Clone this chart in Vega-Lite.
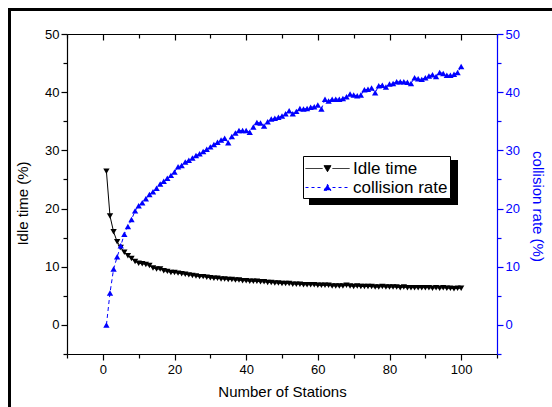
{
  "$schema": "https://vega.github.io/schema/vega-lite/v6.json",
  "width": 430,
  "height": 320,
  "autosize": "none",
  "padding": {"left": 67, "top": 34, "right": 55, "bottom": 53},
  "background": "white",
  "config": {
    "view": {"stroke": null},
    "font": "Liberation Sans",
    "axis": {"grid": false, "labelFont": "Liberation Sans", "titleFont": "Liberation Sans", "labelFontSize": 13, "titleFontSize": 15, "titleFontWeight": "normal", "domainColor": "black", "tickColor": "black", "labelColor": "black", "titleColor": "black", "domainWidth": 1.2, "tickWidth": 1.2, "labelOverlap": false},
    "legend": {"orient": "none", "legendX": 236, "legendY": 122, "strokeColor": "black", "fillColor": "white", "padding": 2, "labelFontSize": 17, "labelFont": "Liberation Sans", "labelColor": "black", "rowPadding": 0, "symbolStrokeWidth": 1, "labelOffset": 15, "symbolOffset": 12, "symbolSize": 400}
  },
  "data": {"values": [
    {"n":1,"idle":26.4,"coll":0},{"n":2,"idle":18.7,"coll":5.5},{"n":3,"idle":16.0,"coll":9.6},{"n":4,"idle":14.3,"coll":11.7},{"n":5,"idle":13.3,"coll":13.6},
    {"n":6,"idle":12.5,"coll":15.6},{"n":7,"idle":11.9,"coll":16.9},{"n":8,"idle":11.4,"coll":18.1},{"n":9,"idle":10.9,"coll":19.6},{"n":10,"idle":10.6,"coll":20.5},
    {"n":11,"idle":10.5,"coll":21.0},{"n":12,"idle":10.4,"coll":21.7},{"n":13,"idle":10.2,"coll":22.4},{"n":14,"idle":9.8,"coll":22.9},{"n":15,"idle":9.6,"coll":23.5},
    {"n":16,"idle":9.6,"coll":24.2},{"n":17,"idle":9.3,"coll":24.7},{"n":18,"idle":9.2,"coll":25.2},{"n":19,"idle":9.0,"coll":25.7},{"n":20,"idle":9.0,"coll":26.3},
    {"n":21,"idle":8.9,"coll":27.2},{"n":22,"idle":8.8,"coll":27.4},{"n":23,"idle":8.7,"coll":28.0},{"n":24,"idle":8.6,"coll":28.3},{"n":25,"idle":8.5,"coll":28.7},
    {"n":26,"idle":8.4,"coll":29.1},{"n":27,"idle":8.3,"coll":29.4},{"n":28,"idle":8.3,"coll":29.8},{"n":29,"idle":8.2,"coll":30.2},{"n":30,"idle":8.1,"coll":30.6},
    {"n":31,"idle":8.0,"coll":31.0},{"n":32,"idle":8.0,"coll":31.4},{"n":33,"idle":7.9,"coll":31.8},{"n":34,"idle":7.9,"coll":32.1},{"n":35,"idle":7.8,"coll":31.3},
    {"n":36,"idle":7.8,"coll":32.4},{"n":37,"idle":7.7,"coll":33.0},{"n":38,"idle":7.7,"coll":33.4},{"n":39,"idle":7.6,"coll":33.4},{"n":40,"idle":7.6,"coll":33.4},
    {"n":41,"idle":7.5,"coll":33.1},{"n":42,"idle":7.5,"coll":34.0},{"n":43,"idle":7.5,"coll":34.8},{"n":44,"idle":7.4,"coll":34.7},{"n":45,"idle":7.4,"coll":34.2},
    {"n":46,"idle":7.3,"coll":34.9},{"n":47,"idle":7.3,"coll":35.4},{"n":48,"idle":7.2,"coll":35.5},{"n":49,"idle":7.2,"coll":35.7},{"n":50,"idle":7.1,"coll":35.9},
    {"n":51,"idle":7.1,"coll":36.3},{"n":52,"idle":7.1,"coll":36.8},{"n":53,"idle":7.0,"coll":36.3},{"n":54,"idle":7.0,"coll":36.7},{"n":55,"idle":7.0,"coll":37.2},
    {"n":56,"idle":6.9,"coll":37.1},{"n":57,"idle":6.9,"coll":37.2},{"n":58,"idle":6.9,"coll":37.4},{"n":59,"idle":6.9,"coll":37.5},{"n":60,"idle":6.8,"coll":37.8},
    {"n":61,"idle":6.8,"coll":37.1},{"n":62,"idle":6.8,"coll":38.8},{"n":63,"idle":6.8,"coll":38.5},{"n":64,"idle":6.7,"coll":38.8},{"n":65,"idle":6.7,"coll":38.8},
    {"n":66,"idle":6.7,"coll":38.8},{"n":67,"idle":6.7,"coll":38.9},{"n":68,"idle":6.8,"coll":39.2},{"n":69,"idle":6.7,"coll":39.7},{"n":70,"idle":6.6,"coll":39.5},
    {"n":71,"idle":6.7,"coll":39.4},{"n":72,"idle":6.6,"coll":39.5},{"n":73,"idle":6.6,"coll":40.4},{"n":74,"idle":6.6,"coll":40.5},{"n":75,"idle":6.6,"coll":40.7},
    {"n":76,"idle":6.5,"coll":39.9},{"n":77,"idle":6.5,"coll":41.1},{"n":78,"idle":6.6,"coll":41.2},{"n":79,"idle":6.5,"coll":40.9},{"n":80,"idle":6.5,"coll":41.4},
    {"n":81,"idle":6.5,"coll":41.5},{"n":82,"idle":6.5,"coll":41.8},{"n":83,"idle":6.4,"coll":41.8},{"n":84,"idle":6.5,"coll":41.8},{"n":85,"idle":6.4,"coll":41.7},
    {"n":86,"idle":6.4,"coll":41.5},{"n":87,"idle":6.4,"coll":42.5},{"n":88,"idle":6.4,"coll":42.3},{"n":89,"idle":6.4,"coll":42.2},{"n":90,"idle":6.4,"coll":42.5},
    {"n":91,"idle":6.4,"coll":42.8},{"n":92,"idle":6.3,"coll":43.0},{"n":93,"idle":6.4,"coll":42.7},{"n":94,"idle":6.3,"coll":43.4},{"n":95,"idle":6.4,"coll":43.2},
    {"n":96,"idle":6.3,"coll":42.9},{"n":97,"idle":6.3,"coll":42.9},{"n":98,"idle":6.2,"coll":43.1},{"n":99,"idle":6.3,"coll":43.4},{"n":100,"idle":6.3,"coll":44.4}
  ]},
  "layer": [
    {
      "layer": [
        {
          "mark": {"type": "rect", "fill": "transparent", "stroke": "black", "strokeWidth": 2, "clip": false},
          "encoding": {
            "x": {"datum": -26.0, "type": "quantitative"},
            "x2": {"datum": 126},
            "y": {"datum": 54.17, "type": "quantitative"},
            "y2": {"datum": -14.5}
          }
        },
        {
          "mark": {"type": "rect", "fill": "black", "clip": false},
          "encoding": {
            "x": {"datum": 57.6, "type": "quantitative"},
            "x2": {"datum": 98.9},
            "y": {"datum": 28.2, "type": "quantitative"},
            "y2": {"datum": 20.7}
          }
        },
        {
          "mark": {"type": "line", "strokeWidth": 1, "color": "black"},
          "encoding": {
            "x": {"field": "n", "type": "quantitative", "scale": {"domain": [-10, 110], "nice": false, "zero": false},
                  "axis": {"title": "Number of Stations", "tickCount": 12, "labelExpr": "datum.value % 20 === 0 ? datum.label : ''", "tickSize": {"condition": {"test": "datum.value % 20 === 0", "value": 6}, "value": 4}, "labelPadding": 3, "titlePadding": 8}},
            "y": {"field": "idle", "type": "quantitative", "scale": {"domain": [-5, 50], "nice": false, "zero": false},
                  "axis": {"title": "Idle time (%)", "tickCount": 11, "labelExpr": "datum.value % 10 === 0 ? datum.label : ''", "tickSize": {"condition": {"test": "datum.value % 10 === 0", "value": 6}, "value": 4}, "labelPadding": 2, "titlePadding": 14, "titleY": 169}}
          }
        },
        {
          "mark": {"type": "point", "filled": true, "size": 40, "opacity": 1, "shape": "triangle-down", "color": "black"},
          "encoding": {
            "x": {"field": "n", "type": "quantitative"},
            "y": {"field": "idle", "type": "quantitative"}
          }
        }
      ]
    },
    {
      "layer": [
        {
          "mark": {"type": "line", "strokeWidth": 1, "color": "blue", "strokeDash": [4, 3]},
          "encoding": {
            "x": {"field": "n", "type": "quantitative",
                  "axis": {"orient": "top", "title": null, "labels": false, "tickCount": 12, "tickSize": {"condition": {"test": "datum.value % 20 === 0", "value": -6}, "value": -4}}},
            "y": {"field": "coll", "type": "quantitative", "scale": {"domain": [-5, 50], "nice": false, "zero": false},
                  "axis": {"orient": "right", "title": "collision rate (%)", "tickCount": 11, "labelExpr": "datum.value % 10 === 0 ? datum.label : ''", "tickSize": {"condition": {"test": "datum.value % 10 === 0", "value": 6}, "value": 4}, "labelPadding": 2, "titlePadding": 10, "titleY": 172, "domainColor": "blue", "tickColor": "blue", "labelColor": "blue", "titleColor": "blue"}}
          }
        },
        {
          "mark": {"type": "point", "filled": true, "size": 40, "opacity": 1, "shape": "triangle-up", "color": "blue"},
          "encoding": {
            "x": {"field": "n", "type": "quantitative"},
            "y": {"field": "coll", "type": "quantitative"}
          }
        },
        {
          "transform": [{"filter": "false"}],
          "mark": {"type": "point", "filled": true, "opacity": 1},
          "encoding": {
            "color": {"datum": "Idle time", "scale": {"domain": ["Idle time", "collision rate"], "range": ["black", "blue"]}, "legend": {"title": null}},
            "stroke": {"datum": "Idle time", "scale": {"domain": ["Idle time", "collision rate"], "range": ["black", "blue"]}, "legend": {"title": null}},
            "strokeDash": {"datum": "Idle time", "scale": {"domain": ["Idle time", "collision rate"], "range": [[1, 0], [3, 3]]}, "legend": {"title": null}},
            "shape": {"datum": "Idle time", "scale": {"domain": ["Idle time", "collision rate"], "range": ["M-2.2,0H-0.5M0.5,0H2.2M-0.35,-0.28H0.35L0,0.32Z", "M-2.2,0H-0.5M0.5,0H2.2M-0.35,0.28H0.35L0,-0.32Z"]}, "legend": {"title": null}}
          }
        }
      ]
    }
  ],
  "resolve": {"scale": {"y": "independent"}, "axis": {"x": "independent"}}
}
